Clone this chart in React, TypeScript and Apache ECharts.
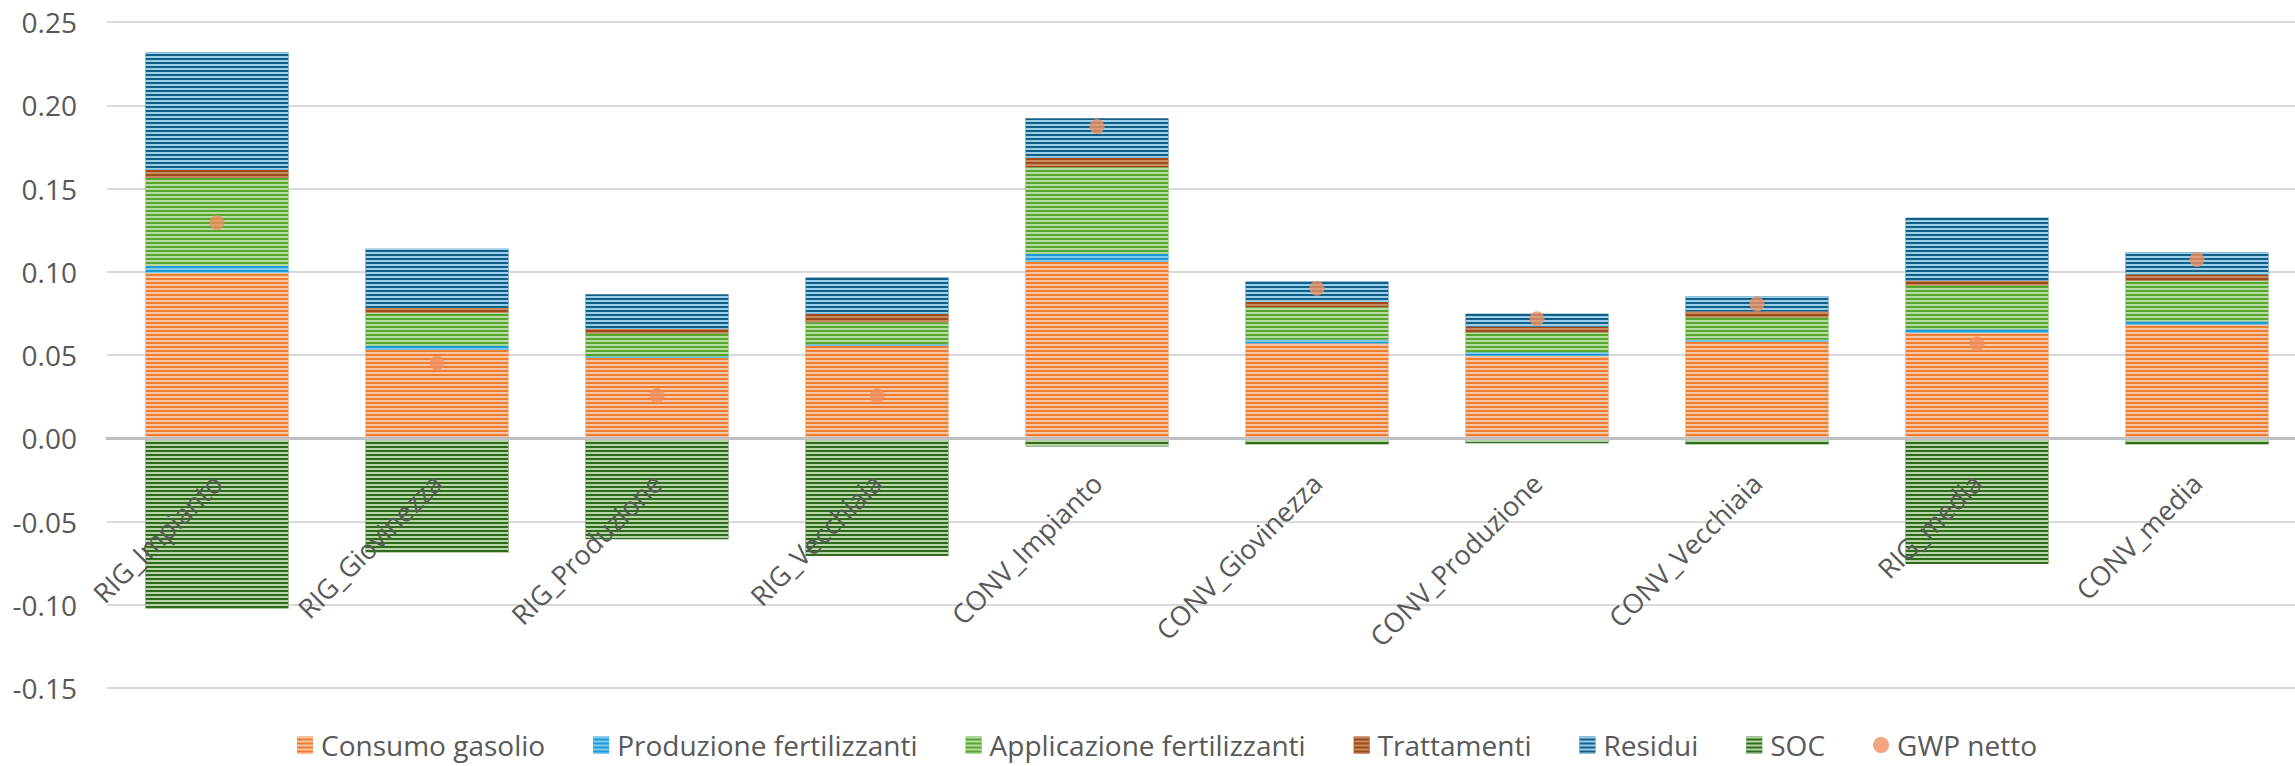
import React, { useEffect, useRef } from "react";
import * as echarts from "echarts";

const categories = [
  "RIG_Impianto",
  "RIG_Giovinezza",
  "RIG_Produzione",
  "RIG_Vecchiaia",
  "CONV_Impianto",
  "CONV_Giovinezza",
  "CONV_Produzione",
  "CONV_Vecchiaia",
  "RIG_media",
  "CONV_media",
];

const consumoGasolio = [0.0993, 0.0532, 0.0483, 0.0555, 0.1061, 0.0569, 0.0496, 0.0581, 0.0633, 0.0683];
const produzioneFertilizzanti = [0.0042, 0.0023, 0.0009, 0.0009, 0.0047, 0.0022, 0.002, 0.001, 0.0021, 0.002];
const applicazioneFertilizzanti = [0.0529, 0.0198, 0.0138, 0.0133, 0.052, 0.0196, 0.0121, 0.0136, 0.0265, 0.0244];
const trattamenti = [0.0048, 0.003, 0.0027, 0.005, 0.0056, 0.0032, 0.0032, 0.0034, 0.0028, 0.0036];
const residui = [0.0705, 0.0355, 0.0208, 0.0218, 0.0238, 0.0122, 0.0078, 0.009, 0.0377, 0.0132];
const soc = [-0.1022, -0.0689, -0.0607, -0.0707, -0.005, -0.004, -0.003, -0.004, -0.0755, -0.004];
const gwpNetto = [0.1294, 0.0452, 0.0256, 0.0256, 0.1873, 0.0901, 0.0717, 0.0807, 0.0567, 0.1073];

const yTicks = { min: -0.15, max: 0.25, interval: 0.05 };

const FONT = "'Open Sans', 'Noto Sans', sans-serif";
const TEXT = "#595959";

const GRID_TOP = 22;
const GRID_HEIGHT = 666;
// distance from the bottom of the plot to the zero line (where the category axis sits)
const ZERO_OFFSET = (GRID_HEIGHT * (0 - yTicks.min)) / (yTicks.max - yTicks.min);

function stripedBar(name: string, data: number[], base: string, light: string) {
  return {
    name,
    type: "bar",
    stack: "total",
    data,
    barWidth: "65%",
    itemStyle: {
      color: base,
      decal: {
        symbol: "rect",
        symbolSize: 1,
        dashArrayX: [10, 0],
        dashArrayY: [2, 2],
        color: light,
        rotation: 0,
      },
    },
  };
}

export default function App() {
  const ref = useRef<HTMLDivElement>(null);

  useEffect(() => {
    if (!ref.current) return;
    const chart = echarts.init(ref.current, undefined, { renderer: "svg" });
    chart.setOption({
      animation: false,
      backgroundColor: "#ffffff",
      textStyle: { fontFamily: FONT },
      grid: {
        left: 107,
        top: GRID_TOP,
        width: 2200,
        height: GRID_HEIGHT,
        containLabel: false,
        outerBoundsMode: "none",
      },
      legend: {
        left: 297,
        top: 730,
        padding: 0,
        itemGap: 48,
        itemWidth: 16,
        itemHeight: 17,
        textStyle: {
          fontSize: 28,
          lineHeight: 30,
          color: TEXT,
          fontFamily: FONT,
          padding: [0, 0, 0, 3],
        },
        data: [
          { name: "Consumo gasolio", icon: "rect" },
          { name: "Produzione fertilizzanti", icon: "rect" },
          { name: "Applicazione fertilizzanti", icon: "rect" },
          { name: "Trattamenti", icon: "rect" },
          { name: "Residui", icon: "rect" },
          { name: "SOC", icon: "rect" },
          { name: "GWP netto", icon: "circle" },
        ],
      },
      xAxis: {
        type: "category",
        data: categories,
        z: 10,
        offset: -ZERO_OFFSET,
        axisLine: { onZero: false, lineStyle: { color: "#BFBFBF", width: 3 } },
        axisTick: { show: false },
        axisLabel: {
          rotate: 45,
          margin: 40,
          fontSize: 27,
          color: TEXT,
          fontFamily: FONT,
          interval: 0,
        },
        splitLine: { show: false },
      },
      yAxis: {
        type: "value",
        min: yTicks.min,
        max: yTicks.max,
        interval: yTicks.interval,
        axisLine: { show: false },
        axisTick: { show: false },
        axisLabel: {
          fontSize: 28,
          color: TEXT,
          margin: 30,
          fontFamily: FONT,
          formatter: (v: number) => v.toFixed(2),
        },
        splitLine: { lineStyle: { color: "#D9D9D9", width: 2 } },
      },
      series: [
        stripedBar("Consumo gasolio", consumoGasolio, "#ED7D31", "#F8C6A4"),
        stripedBar("Produzione fertilizzanti", produzioneFertilizzanti, "#1E9BD7", "#7FCBEF"),
        stripedBar("Applicazione fertilizzanti", applicazioneFertilizzanti, "#55A530", "#B5DDA0"),
        stripedBar("Trattamenti", trattamenti, "#9C4A1A", "#C98A60"),
        stripedBar("Residui", residui, "#145F86", "#98D0EC"),
        stripedBar("SOC", soc, "#2F6A1E", "#B6D6A6"),
        {
          name: "GWP netto",
          type: "scatter",
          data: gwpNetto,
          symbol: "circle",
          symbolSize: 15,
          z: 5,
          itemStyle: { color: "#EF8F5E" },
        },
      ],
    });
    return () => chart.dispose();
  }, []);

  return (
    <div
      ref={ref}
      style={{ position: "fixed", left: 0, top: 0, width: 2295, height: 766 }}
    />
  );
}
